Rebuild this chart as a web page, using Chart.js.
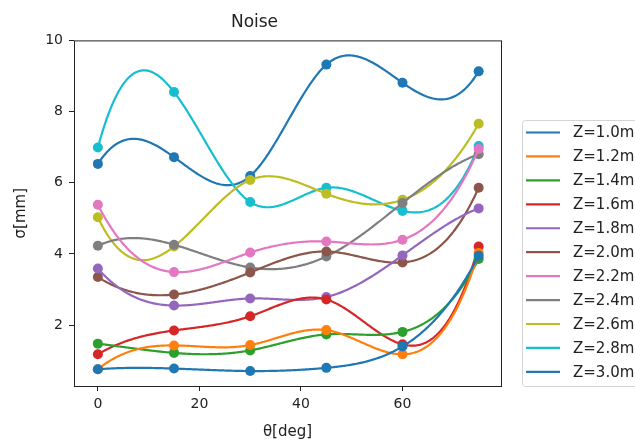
<!DOCTYPE html>
<html>
<head>
<meta charset="utf-8">
<script src="https://cdn.jsdelivr.net/npm/chart.js@4/dist/chart.umd.min.js"></script>
<style>
  html, body { margin: 0; padding: 0; background: #fff; overflow: hidden; }
  #noise { display: block; }
</style>
</head>
<body>
<canvas id="noise" width="635" height="441"></canvas>
<script>
// measurement angles and the sigma readings at each height Z
var thetaDeg = [0, 15, 30, 45, 60, 75]
var zLabels = ['Z=1.0m', 'Z=1.2m', 'Z=1.4m', 'Z=1.6m', 'Z=1.8m', 'Z=2.0m',
               'Z=2.2m', 'Z=2.4m', 'Z=2.6m', 'Z=2.8m', 'Z=3.0m']
var z10 = [0.76, 0.78, 0.71, 0.80, 1.40, 3.95]
var z12 = [0.76, 1.43, 1.44, 1.86, 1.18, 4.03]
var z14 = [1.48, 1.22, 1.29, 1.74, 1.81, 3.86]
var z16 = [1.18, 1.85, 2.25, 2.72, 1.46, 4.21]
var z18 = [3.59, 2.55, 2.75, 2.79, 3.96, 5.28]
var z20 = [3.35, 2.86, 3.48, 4.07, 3.76, 5.86]
var z22 = [5.38, 3.49, 4.04, 4.35, 4.40, 6.95]
var z24 = [4.23, 4.26, 3.62, 3.93, 5.43, 6.80]
var z26 = [5.03, 4.21, 6.08, 5.69, 5.52, 7.66]
var z28 = [6.99, 8.55, 5.46, 5.86, 5.21, 7.03]
var z30 = [6.53, 6.72, 6.19, 9.32, 8.81, 9.13]
var tab10 = ['#1f77b4', '#ff7f0e', '#2ca02c', '#d62728', '#9467bd', '#8c564b',
             '#e377c2', '#7f7f7f', '#bcbd22', '#17becf']

var series = [z10, z12, z14, z16, z18, z20, z22, z24, z26, z28, z30]

// second derivatives of a not-a-knot cubic spline
function splineM(xs, ys) {
    var n = xs.length
    var h = []
    for (var i = 0; i < n - 1; i++) h.push(xs[i + 1] - xs[i])
    var A = [], b = []
    for (var r = 0; r < n; r++) { A.push(new Array(n).fill(0)); b.push(0) }
    A[0][0] = -h[1]; A[0][1] = h[0] + h[1]; A[0][2] = -h[0]
    for (var i = 1; i < n - 1; i++) {
        A[i][i - 1] = h[i - 1]
        A[i][i] = 2 * (h[i - 1] + h[i])
        A[i][i + 1] = h[i]
        b[i] = 6 * ((ys[i + 1] - ys[i]) / h[i] - (ys[i] - ys[i - 1]) / h[i - 1])
    }
    A[n - 1][n - 3] = -h[n - 2]; A[n - 1][n - 2] = h[n - 2] + h[n - 3]; A[n - 1][n - 1] = -h[n - 3]
    for (var c = 0; c < n; c++) {
        var p = c
        for (var r = c + 1; r < n; r++) if (Math.abs(A[r][c]) > Math.abs(A[p][c])) p = r
        var t = A[c]; A[c] = A[p]; A[p] = t
        var tb = b[c]; b[c] = b[p]; b[p] = tb
        for (var r = c + 1; r < n; r++) {
            var f = A[r][c] / A[c][c]
            for (var k = c; k < n; k++) A[r][k] -= f * A[c][k]
            b[r] -= f * b[c]
        }
    }
    var M = new Array(n).fill(0)
    for (var r = n - 1; r >= 0; r--) {
        var s = b[r]
        for (var k = r + 1; k < n; k++) s -= A[r][k] * M[k]
        M[r] = s / A[r][r]
    }
    return M
}

function splineAt(xs, ys, M, x) {
    var i = 0
    while (i < xs.length - 2 && x > xs[i + 1]) i++
    var h = xs[i + 1] - xs[i]
    var a = xs[i + 1] - x, c = x - xs[i]
    return M[i] * a * a * a / (6 * h) + M[i + 1] * c * c * c / (6 * h) +
        (ys[i] / h - M[i] * h / 6) * a + (ys[i + 1] / h - M[i + 1] * h / 6) * c
}

// smooth curve drawn under each dataset's markers
var splineLines = {
    id: 'splineLines',
    beforeDatasetDraw(chart, args) {
        var ds = chart.data.datasets[args.index]
        var xs = ds.data.map(p => p.x)
        var ys = ds.data.map(p => p.y)
        var M = splineM(xs, ys)
        var sx = chart.scales.x, sy = chart.scales.y
        var ctx = chart.ctx
        ctx.save()
        ctx.beginPath()
        var steps = 300
        for (var s = 0; s <= steps; s++) {
            var x = xs[0] + (xs[xs.length - 1] - xs[0]) * s / steps
            var px = sx.getPixelForValue(x)
            var py = sy.getPixelForValue(splineAt(xs, ys, M, x))
            if (s == 0) ctx.moveTo(px, py)
            else ctx.lineTo(px, py)
        }
        ctx.strokeStyle = ds.backgroundColor
        ctx.lineWidth = 2.2
        ctx.lineJoin = 'round'
        ctx.stroke()
        ctx.restore()
    }
}

// axes frame and the boxed legend at the right edge
var frameAndLegend = {
    id: 'frameAndLegend',
    afterDraw(chart) {
        var ctx = chart.ctx
        var a = chart.chartArea
        ctx.save()
        ctx.strokeStyle = '#222'
        ctx.lineWidth = 1
        ctx.strokeRect(a.left + 0.5, a.top + 0.5, a.right - a.left, a.bottom - a.top)

        var lx = 522.5, ly = 120.5, lw = 140, lh = 266
        ctx.fillStyle = '#fff'
        ctx.strokeStyle = '#d4d4d4'
        ctx.beginPath()
        ctx.roundRect(lx, ly, lw, lh, 3)
        ctx.fill()
        ctx.stroke()
        ctx.font = '15px "DejaVu Sans"'
        ctx.textBaseline = 'middle'
        chart.data.datasets.forEach(function (ds, i) {
            var cy = 132.5 + i * 23.94
            ctx.strokeStyle = ds.backgroundColor
            ctx.lineWidth = 2.2
            ctx.beginPath()
            ctx.moveTo(526, cy)
            ctx.lineTo(560, cy)
            ctx.stroke()
            ctx.fillStyle = '#222'
            ctx.fillText(ds.label, 573, cy + 1)
        })
        ctx.restore()
    }
}

var datasets = series.map(function (vals, i) {
    return {
        label: zLabels[i],
        data: thetaDeg.map((t, j) => ({ x: t, y: vals[j] })),
        backgroundColor: tab10[i % 10],
        borderWidth: 0,
        pointRadius: 5,
        showLine: false
    }
})

new Chart(document.getElementById('noise'), {
    type: 'scatter',
    data: { datasets: datasets },
    plugins: [splineLines, frameAndLegend],
    options: {
        responsive: false,
        animation: false,
        events: [],
        layout: { padding: { left: 8, right: 134, top: 0, bottom: 0 } },
        plugins: {
            legend: { display: false },
            tooltip: { enabled: false },
            title: {
                display: true,
                text: 'Noise',
                color: '#222',
                font: { family: 'DejaVu Sans', size: 17, weight: 'normal' },
                padding: { top: 12, bottom: 8 }
            }
        },
        scales: {
            x: {
                type: 'linear',
                min: -4.7,
                max: 79.4,
                afterBuildTicks: ax => { ax.ticks = [0, 20, 40, 60].map(v => ({ value: v })) },
                afterFit: ax => { ax.height = 55 },
                grid: { display: true, drawOnChartArea: false, drawTicks: true, tickLength: 5, color: '#222' },
                border: { display: false },
                ticks: { color: '#222', padding: 5, font: { family: 'DejaVu Sans', size: 14 } },
                title: {
                    display: true,
                    text: 'θ[deg]',
                    color: '#222',
                    padding: { top: 0, bottom: 0 },
                    font: { family: 'DejaVu Sans', size: 15 }
                }
            },
            y: {
                min: 0.29,
                max: 10,
                afterBuildTicks: ax => { ax.ticks = [2, 4, 6, 8, 10].map(v => ({ value: v })) },
                afterFit: ax => { ax.width = 66 },
                grid: { display: true, drawOnChartArea: false, drawTicks: true, tickLength: 5, color: '#222' },
                border: { display: false },
                ticks: { color: '#222', padding: 6, font: { family: 'DejaVu Sans', size: 14 } },
                title: {
                    display: true,
                    text: 'σ[mm]',
                    color: '#222',
                    padding: { top: 4, bottom: 4 },
                    font: { family: 'DejaVu Sans', size: 15 }
                }
            }
        }
    }
})
</script>
</body>
</html>
